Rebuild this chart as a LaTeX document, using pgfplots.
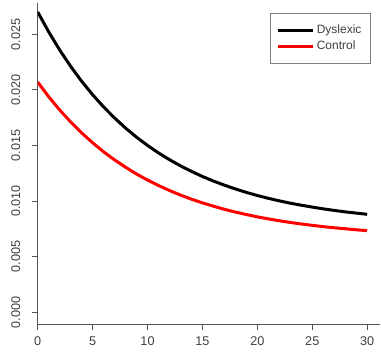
\documentclass[border=0pt]{standalone}
\usepackage{pgfplots}
\pgfplotsset{compat=1.18}
\usepackage{fontspec}
\setmainfont{Liberation Sans}
\definecolor{txt}{HTML}{404040}
\definecolor{axc}{HTML}{555555}
\definecolor{rred}{HTML}{FF0000}
\begin{document}
\begin{tikzpicture}
\begin{axis}[
  name=ax,
  scale only axis,
  width=256.9pt, height=241.2pt,
  xmin=0, xmax=31.2,
  ymin=-0.00108, ymax=0.02784,
  axis x line*=bottom, axis y line*=left,
  axis line style={draw=axc, line width=0.6pt},
  tick style={draw=axc, line width=0.6pt},
  tick align=outside,
  major tick length=4.5pt,
  xtick={0,5,...,30},
  ytick={0,0.005,0.01,0.015,0.02,0.025},
  scaled y ticks=false,
  yticklabel shift=5pt,
  xticklabel shift=1pt,
  /pgf/number format/assume math mode=true,
  yticklabel style={/pgf/number format/fixed, /pgf/number format/fixed zerofill, /pgf/number format/precision=3,
    rotate=90, anchor=south, font=\fontsize{9.5}{11}\selectfont, text=txt},
  xticklabel style={font=\fontsize{9.5}{11}\selectfont, text=txt},
  legend style={at={(rel axis cs:0.678,0.967)}, anchor=north west, draw=gray, line width=0.6pt,
    font=\fontsize{9}{11.25}\selectfont, text=txt, inner xsep=4.5pt, inner ysep=6.5pt,
    row sep=0pt},
  legend cell align=left,
  legend image code/.code={\draw[#1, line width=2.25pt] (0pt,0pt) -- (22pt,0pt); \path (0pt,0pt) -- (26pt,0pt);},
]
\addplot[black, line width=2.25pt] coordinates {
(0,0.02700)(1,0.02521)(2,0.02358)(3,0.02211)(4,0.02077)(5,0.01956)(6,0.01846)(7,0.01747)
(8,0.01656)(9,0.01574)(10,0.01500)(11,0.01433)(12,0.01372)(13,0.01317)(14,0.01267)
(15,0.01221)(16,0.01180)(17,0.01143)(18,0.01109)(19,0.01078)(20,0.01050)(21,0.01025)
(22,0.01002)(23,0.00981)(24,0.00963)(25,0.00946)(26,0.00930)(27,0.00916)(28,0.00903)
(29,0.00892)(30,0.00881)};
\addlegendentry{Dyslexic}
\addplot[rred, line width=2.25pt] coordinates {
(0,0.02070)(1,0.01938)(2,0.01819)(3,0.01711)(4,0.01613)(5,0.01524)(6,0.01443)(7,0.01370)
(8,0.01304)(9,0.01243)(10,0.01189)(11,0.01140)(12,0.01095)(13,0.01054)(14,0.01017)
(15,0.00984)(16,0.00954)(17,0.00926)(18,0.00901)(19,0.00879)(20,0.00858)(21,0.00840)
(22,0.00823)(23,0.00808)(24,0.00794)(25,0.00782)(26,0.00770)(27,0.00760)(28,0.00751)
(29,0.00742)(30,0.00734)};
\addlegendentry{Control}
\end{axis}
\pgfresetboundingbox
\path ([shift={(-28.3pt,-29pt)}]ax.south west) rectangle ([shift={(0.5pt,2pt)}]ax.north east);
\end{tikzpicture}
\end{document}
